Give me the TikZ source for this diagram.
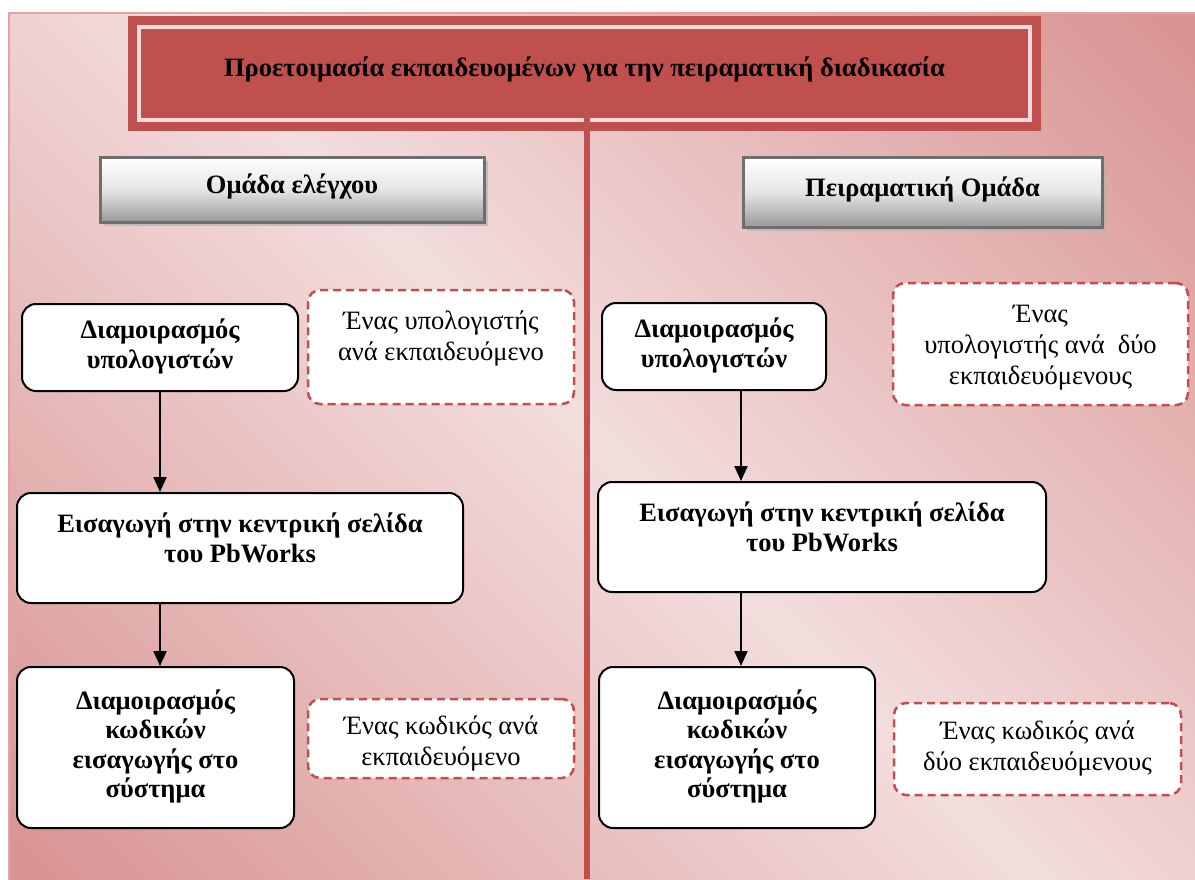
\documentclass[tikz,border=0pt]{standalone}
\usepackage{fontspec}
\setmainfont{Liberation Serif}
\usetikzlibrary{arrows.meta,shadows}

\definecolor{accent}{HTML}{C0504D}
\definecolor{bgdark}{HTML}{D99594}
\definecolor{bglight}{HTML}{F3DDDD}
\definecolor{framered}{HTML}{E3A3A3}
\definecolor{titleline}{HTML}{F2DCDB}
\definecolor{headborder}{HTML}{6E6E6E}

% diagonal band: dark corners, light middle
\pgfdeclareverticalshading{panelshade}{100bp}{%
  color(0bp)=(bgdark); color(16bp)=(bgdark); color(50bp)=(bglight);
  color(84bp)=(bgdark); color(100bp)=(bgdark)}

% centred lines of text, optionally lifted inside their box
\newcommand{\boxtext}[2][0pt]{%
  \raisebox{#1}[\height][\depth]{%
    \begin{tabular}{@{}c@{}}#2\end{tabular}}}

\tikzset{
  stepbox/.style={draw=black, line width=2pt, fill=white, rounded corners=14pt,
    inner sep=0pt, font=\fontsize{26.5}{29.5}\selectfont\bfseries},
  notebox/.style={draw=accent, line width=2.5pt, dash pattern=on 8pt off 5pt,
    fill=white, rounded corners=12pt, inner sep=0pt,
    font=\fontsize{26.5}{31}\selectfont},
  groupbox/.style={draw=headborder, line width=3pt, top color=white,
    bottom color=black!40, middle color=white!90!black, inner sep=0pt,
    font=\fontsize{26.5}{30}\selectfont\bfseries,
    drop shadow={shadow xshift=4pt, shadow yshift=-4pt, fill=black!30, opacity=0.7}},
  titlebox/.style={fill=accent, inner sep=0pt, font=\fontsize{26.5}{30}\selectfont\bfseries},
  flow/.style={line width=2pt, -{Triangle[width=13pt,length=15pt]}},
}

\begin{document}
\begin{tikzpicture}[x=1pt,y=-1pt]
  \useasboundingbox (0,0) rectangle (1195,879);
  \fill[white] (0,0) rectangle (1195,879);

  % panel background
  \path[draw=framered, line width=1.5pt, shading=panelshade, shading angle=-45]
    (9,13) rectangle (1197,881);

  % title banner
  \node[titlebox, minimum width=913pt, minimum height=115pt] (title) at (584.5,73.5)
    {\boxtext[3pt]{Προετοιμασία εκπαιδευομένων για την πειραματική διαδικασία}};
  \draw[titleline, line width=3.5pt]
    ([xshift=11pt,yshift=-11pt]title.north west) rectangle
    ([xshift=-11pt,yshift=11pt]title.south east);

  % divider between the two groups
  \coordinate (divtop) at (587,118);
  \coordinate (divbot) at (587,879);
  \draw[accent, line width=6pt] (divtop) -- (divbot);

  % group headers
  \node[groupbox, minimum width=384pt, minimum height=65pt] (gleft) at (292,189.5)
    {\boxtext[2pt]{Ομάδα ελέγχου}};
  \node[groupbox, minimum width=359pt, minimum height=70pt] (gright) at (922.5,192)
    {\boxtext[2pt]{Πειραματική Ομάδα}};

  % control group
  \node[stepbox, minimum width=276pt, minimum height=87pt] (L1) at (160,347.5)
    {\boxtext{Διαμοιρασμός\\υπολογιστών}};
  \node[notebox, minimum width=266pt, minimum height=114pt] (LN1) at (441,347)
    {\boxtext[8pt]{Ένας υπολογιστής\\ανά εκπαιδευόμενο}};
  \node[stepbox, minimum width=446pt, minimum height=110pt] (L2) at (240,548)
    {\boxtext[6.5pt]{Εισαγωγή στην κεντρική σελίδα\\του PbWorks}};
  \node[stepbox, minimum width=277pt, minimum height=161pt] (L3) at (155.5,747.5)
    {\boxtext{Διαμοιρασμός\\κωδικών\\εισαγωγής στο\\σύστημα}};
  \node[notebox, minimum width=266pt, minimum height=79pt] (LN3) at (441,738.5)
    {\boxtext[-5pt]{Ένας κωδικός ανά\\εκπαιδευόμενο}};

  \draw[flow] (L1.south) -- (L1.south |- L2.north);
  \draw[flow] (L1.south |- L2.south) -- (L1.south |- L3.north);

  % experimental group
  \node[stepbox, minimum width=224pt, minimum height=87pt] (R1) at (714,346.5)
    {\boxtext{Διαμοιρασμός\\υπολογιστών}};
  \node[notebox, minimum width=295pt, minimum height=122pt] (RN1) at (1040.5,344)
    {\boxtext[-3pt]{Ένας\\υπολογιστής ανά\ \ δύο\\εκπαιδευόμενους}};
  \node[stepbox, minimum width=448pt, minimum height=110pt] (R2) at (822,537)
    {\boxtext[6.5pt]{Εισαγωγή στην κεντρική σελίδα\\του PbWorks}};
  \node[stepbox, minimum width=276pt, minimum height=161pt] (R3) at (737,747.5)
    {\boxtext{Διαμοιρασμός\\κωδικών\\εισαγωγής στο\\σύστημα}};
  \node[notebox, minimum width=287pt, minimum height=92pt] (RN3) at (1037.5,749)
    {\boxtext{Ένας κωδικός ανά\\δύο εκπαιδευόμενους}};

  \coordinate (rx) at (741,0);
  \draw[flow] (rx |- R1.south) -- (rx |- R2.north);
  \draw[flow] (rx |- R2.south) -- (rx |- R3.north);
\end{tikzpicture}
\end{document}
